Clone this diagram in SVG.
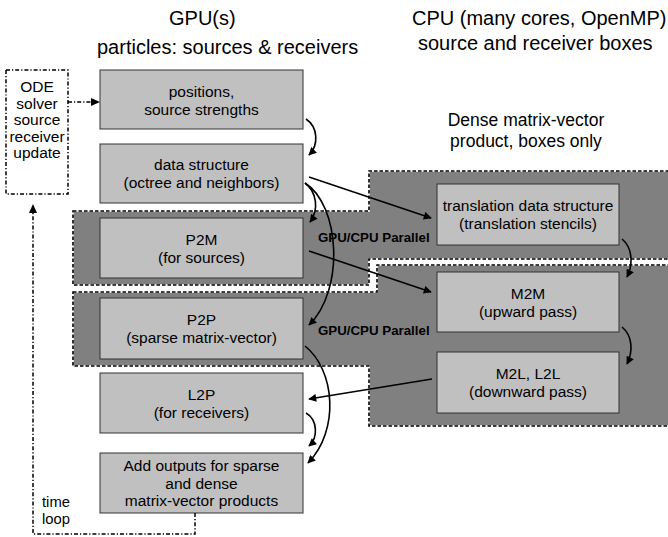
<svg xmlns="http://www.w3.org/2000/svg" width="668" height="537" viewBox="0 0 668 537">
<style>
text{font-family:"Liberation Sans",Arial,Helvetica,sans-serif;fill:#000}
.hd{font-size:20px}
.sub{font-size:17.5px}
.bt{font-size:15.5px;text-anchor:middle}
.par{font-size:13.3px;font-weight:bold}
.box{fill:#c0c0c0;stroke:#333;stroke-width:1}
.reg{fill:#808080;stroke:#fff;stroke-width:1.6}
.regd{fill:none;stroke:#000;stroke-width:1.6;stroke-dasharray:3.5,2}
.con{fill:none;stroke:#000;stroke-width:1.6;marker-end:url(#ah)}
.dd{fill:none;stroke:#000;stroke-width:1.5;stroke-dasharray:4,2,1.2,2}
</style>
<defs>
<marker id="ah" viewBox="0 0 10 10" refX="9" refY="5" markerUnits="userSpaceOnUse" markerWidth="9" markerHeight="8" orient="auto">
<path d="M0,0 L10,5 L0,10 z" fill="#000"/>
</marker>
</defs>
<rect width="668" height="537" fill="#fff"/>

<g id="regions">
<path id="regionA" class="reg" d="M73,211 L369,211 L369,171 L672,171 L672,259 L369,259 L369,285 L73,285 Z"/>
<path class="regd" d="M73,211 L369,211 L369,171 L672,171 L672,259 L369,259 L369,285 L73,285 Z"/>
<path id="regionB" class="reg" d="M73,292 L377,292 L377,265 L672,265 L672,426 L369,426 L369,366 L73,366 Z"/>
<path class="regd" d="M73,292 L377,292 L377,265 L672,265 L672,426 L369,426 L369,366 L73,366 Z"/>
<text class="par" x="318" y="242">GPU/CPU Parallel</text>
<text class="par" x="318" y="335">GPU/CPU Parallel</text>
</g>

<g id="headings">
<text class="hd" x="169" y="25">GPU(s)</text>
<text class="hd" x="97" y="54">particles: sources &amp; receivers</text>
<text class="hd" x="412" y="25">CPU (many cores, OpenMP)</text>
<text class="hd" x="418" y="50">source and receiver boxes</text>
<text class="sub" x="526" y="125.5" text-anchor="middle">Dense matrix-vector</text>
<text class="sub" x="526" y="146.5" text-anchor="middle">product, boxes only</text>
</g>

<g id="ode">
<rect x="6" y="70" width="62" height="124" fill="#fff" class="dd"/>
<text class="bt" x="37" y="92">ODE</text>
<text class="bt" x="37" y="108.5">solver</text>
<text class="bt" x="37" y="125">source</text>
<text class="bt" x="37" y="141.5">receiver</text>
<text class="bt" x="37" y="158">update</text>
</g>

<g id="positions">
<rect class="box" x="100" y="70" width="203" height="59"/>
<text class="bt" x="201.5" y="96.5">positions,</text>
<text class="bt" x="201.5" y="114.5">source strengths</text>
</g>
<g id="datastructure">
<rect class="box" x="100" y="144" width="203" height="59"/>
<text class="bt" x="201.5" y="170">data structure</text>
<text class="bt" x="201.5" y="188">(octree and neighbors)</text>
</g>
<g id="p2m">
<rect class="box" x="100" y="218" width="203" height="60"/>
<text class="bt" x="201.5" y="244.5">P2M</text>
<text class="bt" x="201.5" y="262.5">(for sources)</text>
</g>
<g id="p2p">
<rect class="box" x="100" y="298" width="203" height="61"/>
<text class="bt" x="201.5" y="325">P2P</text>
<text class="bt" x="201.5" y="343">(sparse matrix-vector)</text>
</g>
<g id="l2p">
<rect class="box" x="100" y="373" width="203" height="60"/>
<text class="bt" x="201.5" y="399.5">L2P</text>
<text class="bt" x="201.5" y="417.5">(for receivers)</text>
</g>
<g id="addoutputs">
<rect class="box" x="100" y="453" width="203" height="60"/>
<text class="bt" x="201.5" y="471">Add outputs for sparse</text>
<text class="bt" x="201.5" y="488.5">and dense</text>
<text class="bt" x="201.5" y="506">matrix-vector products</text>
</g>
<g id="translation">
<rect class="box" x="437" y="184" width="182" height="61"/>
<text class="bt" x="528" y="211">translation data structure</text>
<text class="bt" x="528" y="229">(translation stencils)</text>
</g>
<g id="m2m">
<rect class="box" x="437" y="272" width="182" height="60"/>
<text class="bt" x="528" y="298.5">M2M</text>
<text class="bt" x="528" y="316.5">(upward pass)</text>
</g>
<g id="m2l">
<rect class="box" x="437" y="352" width="182" height="61"/>
<text class="bt" x="528" y="379">M2L, L2L</text>
<text class="bt" x="528" y="397">(downward pass)</text>
</g>

<g id="timeloop">
<text x="42" y="507" font-size="14.8">time</text>
<text x="42" y="524" font-size="14.8">loop</text>
</g>

<g id="connectors">
<path class="dd" d="M68,102 L92,102"/>
<path d="M91,98 L100,102 L91,106 z" fill="#000"/>
<path class="dd" d="M195,513 L195,534 L33,534 L33,212"/>
<path d="M29,213 L33,204 L37,213 z" fill="#000"/>
<path class="con" d="M306,119 C318,127 319,145 309,155"/>
<path class="con" d="M305,183 C317,192 319,210 310,222"/>
<path class="con" d="M305,183 C340,205 345,290 309,325"/>
<path class="con" d="M309,177 L431,218"/>
<path class="con" d="M309,251 L431,292"/>
<path class="con" d="M622,239 C633,248 633,265 627,277"/>
<path class="con" d="M622,327 C633,336 633,352 627,364"/>
<path class="con" d="M432,379 L309,399"/>
<path class="con" d="M305,346 C335,370 340,430 308,463"/>
<path class="con" d="M306,413 C318,420 318,438 309,446"/>
</g>
</svg>
